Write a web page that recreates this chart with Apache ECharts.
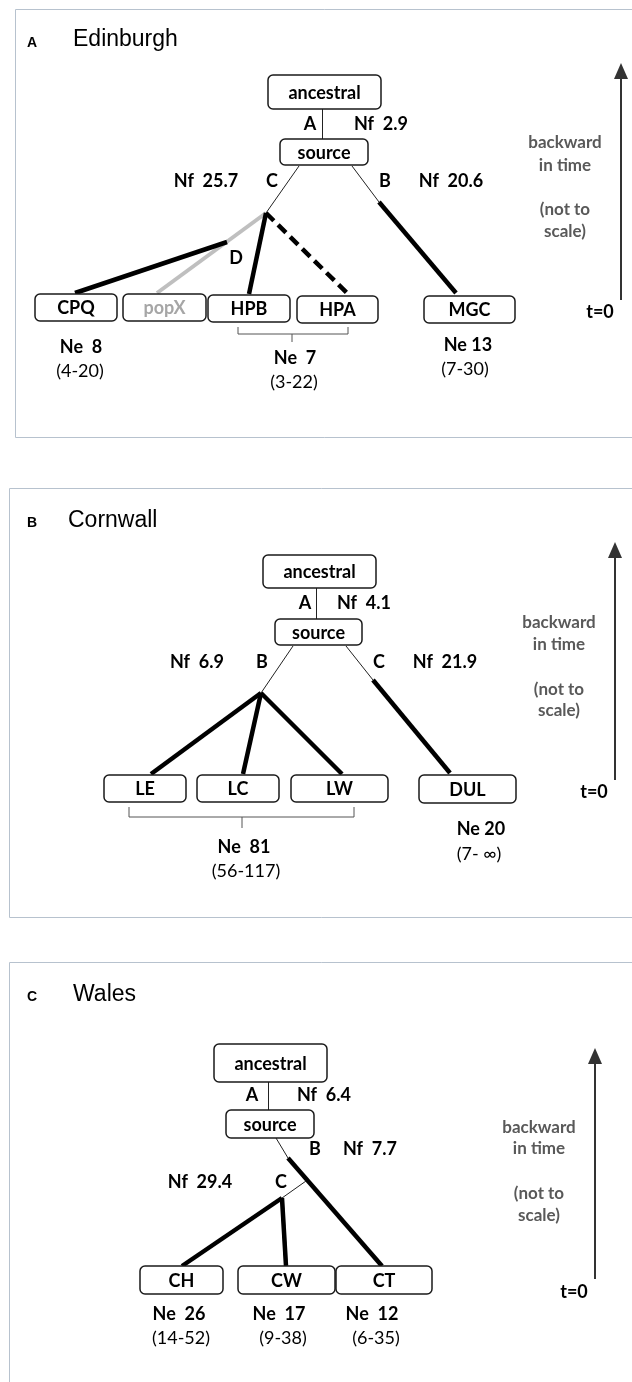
<!DOCTYPE html>
<html>
<head>
<meta charset="utf-8">
<script src="https://cdn.jsdelivr.net/npm/echarts@6/dist/echarts.min.js"></script>
<style>
  html, body { margin: 0; padding: 0; background: #fff; }
  #chart { width: 632px; height: 1382px; }
</style>
</head>
<body>
<div id="chart"></div>
<script>
// -------------------- data (page pixel coordinates) --------------------

// panel frames: x0, y0, x1, y1
const frames = [
  [15, 9, 640, 437],
  [9, 488, 640, 917],
  [9, 962, 640, 1390]
]

// population boxes: label, x0, y0, x1, y1, muted
const boxes = [
  ['ancestral', 268, 75, 381, 109, 0],
  ['source', 280, 139, 368, 165, 0],
  ['CPQ', 35, 294, 117, 321, 0],
  ['popX', 123, 294, 206, 321, 1],
  ['HPB', 208, 295, 290, 322, 0],
  ['HPA', 297, 296, 378, 323, 0],
  ['MGC', 424, 296, 515, 323, 0],

  ['ancestral', 263, 555, 376, 588, 0],
  ['source', 275, 619, 362, 645, 0],
  ['LE', 104, 775, 186, 802, 0],
  ['LC', 197, 775, 279, 802, 0],
  ['LW', 291, 775, 388, 802, 0],
  ['DUL', 419, 775, 516, 803, 0],

  ['ancestral', 214, 1044, 327, 1082, 0],
  ['source', 226, 1110, 314, 1138, 0],
  ['CH', 140, 1266, 223, 1294, 0],
  ['CW', 238, 1266, 335, 1294, 0],
  ['CT', 336, 1266, 432, 1294, 0]
]

// tree branches: x1, y1, x2, y2, kind
const edges = [
  [322.5, 109, 322.5, 139, 'thin'],
  [299, 166, 266, 213, 'thin'],
  [352, 166, 379, 202, 'thin'],
  [379, 202, 456, 293, 'thick'],
  [266, 213, 157, 293, 'gray'],
  [227, 242, 75, 293, 'thick'],
  [266, 213, 249, 294, 'thick'],
  [266, 213, 348, 294, 'dash'],

  [316.5, 588, 316.5, 619, 'thin'],
  [293, 646, 261, 693, 'thin'],
  [346, 646, 373, 680, 'thin'],
  [373, 680, 450, 773, 'thick'],
  [261, 693, 151, 774, 'thick'],
  [261, 693, 243, 774, 'thick'],
  [261, 693, 342, 774, 'thick'],

  [268.5, 1082, 268.5, 1110, 'thin'],
  [276, 1138, 288, 1158, 'thin'],
  [288, 1158, 382, 1266, 'thick'],
  [306, 1181, 282, 1198, 'thin'],
  [282, 1198, 182, 1266, 'thick'],
  [282, 1198, 286, 1266, 'thick']
]

// brackets under grouped populations: x0, x1, xMid, yTop, yBar, yTick
const brackets = [
  [238, 348, 292, 327, 334, 342],
  [129, 354, 242, 807, 817, 828]
]

// time arrows: x, yTip, yBottom
const arrows = [
  [621, 63, 300],
  [615, 542, 780],
  [595, 1048, 1279]
]

// text labels: text, x, y, kind
const labels = [
  ['A', 32, 43, 'letter'], ['Edinburgh', 73, 40, 'title'],
  ['A', 310, 124, 'b'], ['Nf  2.9', 381, 124, 'b'],
  ['Nf  25.7', 206, 181, 'b'], ['C', 272, 181, 'b'], ['B', 385, 181, 'b'], ['Nf  20.6', 451, 181, 'b'],
  ['D', 236, 258, 'b'],
  ['Ne  8', 81, 347, 'b'], ['(4-20)', 80, 371, 'n'],
  ['Ne  7', 295, 358, 'b'], ['(3-22)', 294, 382, 'n'],
  ['Ne 13', 468, 345, 'b'], ['(7-30)', 465, 369, 'n'],
  ['backward', 565, 143, 'g'], ['in time', 565, 166, 'g'], ['(not to', 565, 210, 'g'], ['scale)', 565, 232, 'g'],
  ['t=0', 600, 312, 'b'],

  ['B', 32, 523, 'letter'], ['Cornwall', 68, 521, 'title'],
  ['A', 305, 603, 'b'], ['Nf  4.1', 364, 603, 'b'],
  ['Nf  6.9', 197, 662, 'b'], ['B', 262, 662, 'b'], ['C', 379, 662, 'b'], ['Nf  21.9', 445, 662, 'b'],
  ['Ne  81', 244, 847, 'b'], ['(56-117)', 246, 871, 'n'],
  ['Ne 20', 481, 829, 'b'], ['(7- ∞)', 479, 854, 'n'],
  ['backward', 559, 623, 'g'], ['in time', 559, 645, 'g'], ['(not to', 559, 690, 'g'], ['scale)', 559, 711, 'g'],
  ['t=0', 594, 792, 'b'],

  ['C', 32, 997, 'letter'], ['Wales', 73, 995, 'title'],
  ['A', 252, 1095, 'b'], ['Nf  6.4', 324, 1095, 'b'],
  ['B', 315, 1149, 'b'], ['Nf  7.7', 370, 1149, 'b'],
  ['Nf  29.4', 200, 1182, 'b'], ['C', 281, 1182, 'b'],
  ['Ne  26', 179, 1314, 'b'], ['(14-52)', 181, 1338, 'n'],
  ['Ne  17', 279, 1314, 'b'], ['(9-38)', 283, 1338, 'n'],
  ['Ne  12', 372, 1314, 'b'], ['(6-35)', 376, 1338, 'n'],
  ['backward', 539, 1128, 'g'], ['in time', 539, 1149, 'g'], ['(not to', 539, 1194, 'g'], ['scale)', 539, 1216, 'g'],
  ['t=0', 574, 1292, 'b']
]

// -------------------- styles --------------------

const FONT = 'Lato, "Open Sans", sans-serif'

const edgeStyles = {
  thin: { stroke: '#222', lineWidth: 1 },
  thick: { stroke: '#000', lineWidth: 4.5 },
  gray: { stroke: '#bfbfbf', lineWidth: 4 },
  dash: { stroke: '#000', lineWidth: 4.5, lineDash: [11, 6] }
}

const textStyles = {
  letter: { fontFamily: '"Liberation Sans", Arial, sans-serif', fontWeight: 'bold', fontSize: 14, fill: '#000', align: 'center' },
  title: { fontFamily: '"Liberation Sans", Arial, sans-serif', fontWeight: 'normal', fontSize: 23, fill: '#000', align: 'left' },
  b: { fontFamily: FONT, fontWeight: 'bold', fontSize: 18, fill: '#000', align: 'center' },
  n: { fontFamily: FONT, fontWeight: 'normal', fontSize: 18, fill: '#000', align: 'center' },
  g: { fontFamily: FONT, fontWeight: 'bold', fontSize: 17, fill: '#595959', align: 'center' }
}

// -------------------- render --------------------

const chart = echarts.init(document.getElementById('chart'), null, { renderer: 'canvas' })

const pt = (api, x, y) => api.coord([x, y])

const option = {
  animation: false,
  backgroundColor: '#fff',
  grid: { left: 0, top: 0, width: 632, height: 1382 },
  xAxis: { type: 'value', min: 0, max: 632, show: false },
  yAxis: { type: 'value', min: 0, max: 1382, inverse: true, show: false },
  series: [
    // 面板边框
    {
      type: 'custom',
      silent: true,
      data: frames.map(f => [f[0], f[1]]),
      renderItem: (params, api) => {
        const f = frames[params.dataIndex]
        const a = pt(api, f[0], f[1])
        const b = pt(api, f[2], f[3])
        return {
          type: 'rect',
          shape: { x: a[0] + 0.5, y: a[1] + 0.5, width: b[0] - a[0], height: b[1] - a[1] },
          style: { fill: null, stroke: '#b7c2ce', lineWidth: 1 }
        }
      }
    },
    // 树枝
    {
      type: 'custom',
      silent: true,
      data: edges.map(e => [e[0], e[1]]),
      renderItem: (params, api) => {
        const e = edges[params.dataIndex]
        const a = pt(api, e[0], e[1])
        const b = pt(api, e[2], e[3])
        return {
          type: 'line',
          shape: { x1: a[0], y1: a[1], x2: b[0], y2: b[1] },
          style: Object.assign({ fill: null }, edgeStyles[e[4]])
        }
      }
    },
    // 括号
    {
      type: 'custom',
      silent: true,
      data: brackets.map(k => [k[0], k[3]]),
      renderItem: (params, api) => {
        const k = brackets[params.dataIndex]
        const style = { fill: null, stroke: '#555', lineWidth: 1 }
        return {
          type: 'group',
          children: [
            {
              type: 'polyline',
              shape: { points: [pt(api, k[0], k[3]), pt(api, k[0], k[4]), pt(api, k[1], k[4]), pt(api, k[1], k[3])] },
              style
            },
            {
              type: 'polyline',
              shape: { points: [pt(api, k[2], k[4]), pt(api, k[2], k[5])] },
              style
            }
          ]
        }
      }
    },
    // 种群方框
    {
      type: 'custom',
      silent: true,
      data: boxes.map(b => [b[1], b[2]]),
      renderItem: (params, api) => {
        const b = boxes[params.dataIndex]
        const a = pt(api, b[1], b[2])
        const c = pt(api, b[3], b[4])
        return {
          type: 'group',
          children: [
            {
              type: 'rect',
              shape: { x: a[0], y: a[1], width: c[0] - a[0], height: c[1] - a[1], r: 5 },
              style: { fill: '#fff', stroke: '#1a1a1a', lineWidth: 1.5 }
            },
            {
              type: 'text',
              style: {
                text: b[0],
                x: (a[0] + c[0]) / 2,
                y: (a[1] + c[1]) / 2 + 1,
                align: 'center',
                verticalAlign: 'middle',
                fontFamily: FONT,
                fontWeight: 'bold',
                fontSize: 18,
                fill: b[5] ? '#a6a6a6' : '#000'
              }
            }
          ]
        }
      }
    },
    // 时间箭头
    {
      type: 'custom',
      silent: true,
      data: arrows.map(r => [r[0], r[1]]),
      renderItem: (params, api) => {
        const r = arrows[params.dataIndex]
        const tip = pt(api, r[0], r[1])
        const bot = pt(api, r[0], r[2])
        return {
          type: 'group',
          children: [
            {
              type: 'line',
              shape: { x1: tip[0], y1: tip[1] + 12, x2: bot[0], y2: bot[1] },
              style: { stroke: '#333', lineWidth: 2 }
            },
            {
              type: 'polygon',
              shape: { points: [[tip[0], tip[1]], [tip[0] - 7, tip[1] + 16], [tip[0] + 7, tip[1] + 16]] },
              style: { fill: '#333' }
            }
          ]
        }
      }
    },
    // 文本标签
    {
      type: 'custom',
      silent: true,
      data: labels.map(l => [l[1], l[2]]),
      renderItem: (params, api) => {
        const l = labels[params.dataIndex]
        const p = pt(api, l[1], l[2])
        return {
          type: 'text',
          style: Object.assign({
            text: l[0],
            x: p[0],
            y: p[1],
            verticalAlign: 'middle'
          }, textStyles[l[3]])
        }
      }
    }
  ]
}

chart.setOption(option)
</script>
</body>
</html>
